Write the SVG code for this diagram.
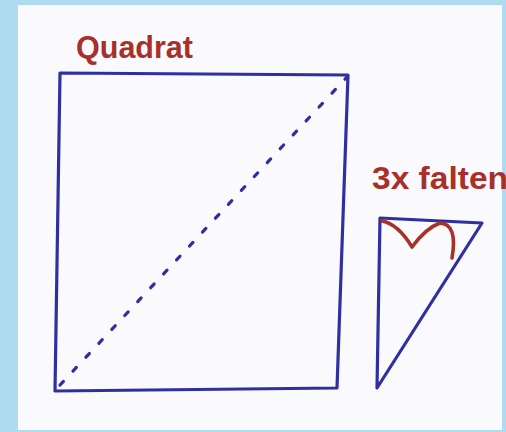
<svg xmlns="http://www.w3.org/2000/svg" width="506" height="432" viewBox="0 0 506 432">
<style>
.blue{fill:none;stroke:#2f2fa2;stroke-width:3.2;stroke-linecap:round;stroke-linejoin:round}
.red{fill:none;stroke:#a8302a;stroke-width:3.6;stroke-linecap:round;stroke-linejoin:round}
.lbl{fill:#a8302a;font-family:"Comic Sans MS","Liberation Sans",sans-serif;font-size:32px;font-weight:bold}
</style>
<rect x="0" y="0" width="506" height="432" fill="#aedbf0"/>
<rect x="18" y="5" width="484" height="425" fill="#fafafc"/>
<g id="quadrat">
<text class="lbl" x="76" y="58" textLength="117" lengthAdjust="spacingAndGlyphs">Quadrat</text>
<path class="blue" d="M60,73 L348,75 L337,388 L55,391 Z"/>
<path class="blue" d="M60,385 L347,77" stroke-width="3.8" stroke-dasharray="5,14"/>
</g>
<g id="falten">
<text class="lbl" x="372" y="189" textLength="136" lengthAdjust="spacingAndGlyphs">3x falten</text>
<path class="blue" d="M380,218 L482,223 L377,388 Z"/>
<path class="red" d="M382,221 Q398,224 412,247 Q426,228 440,223 Q458,224 452,258"/>
</g>
</svg>
